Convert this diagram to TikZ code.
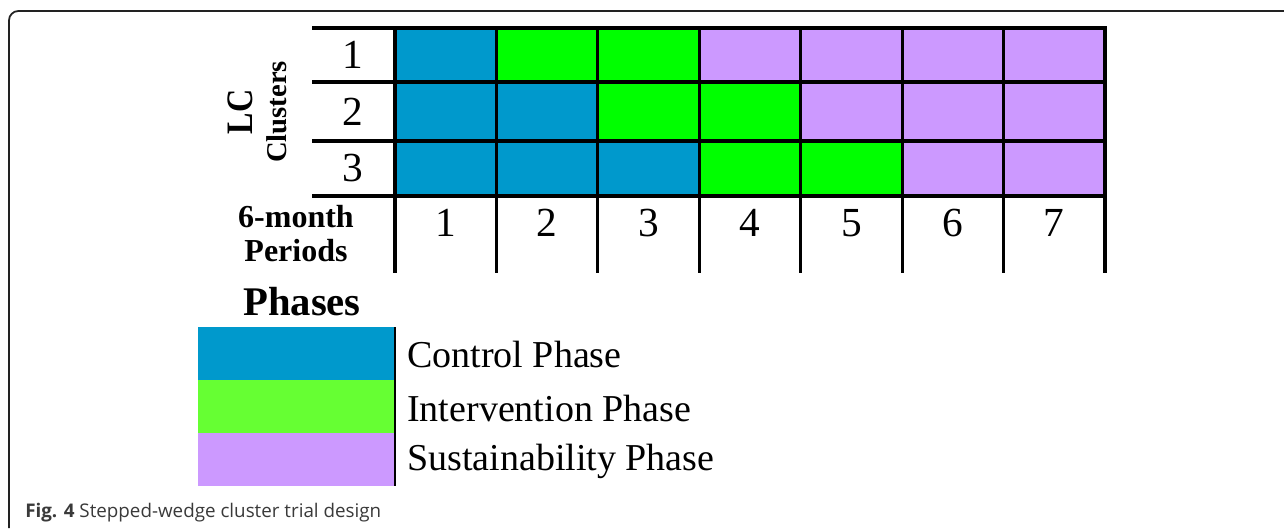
\documentclass[tikz,border=0pt]{standalone}
\usepackage{fontspec}
\setmainfont{Liberation Serif}
\newfontfamily\capfont{Open Sans}
\definecolor{ctrl}{HTML}{0099CC}
\definecolor{interv}{HTML}{00FF00}
\definecolor{sustain}{HTML}{CC99FF}
\definecolor{legint}{HTML}{66FF33}
\definecolor{framegray}{HTML}{222222}
\definecolor{capgray}{HTML}{3A3A3A}
\tikzset{
  gridline/.style={line width=2.3pt, black},
  rowlab/.style={font=\fontsize{31}{32}\selectfont, inner sep=0pt},
  collab/.style={font=\fontsize{31}{32}\selectfont, inner sep=0pt},
  boldlab/.style={font=\bfseries\fontsize{24}{26}\selectfont, inner sep=0pt},
  legtext/.style={font=\fontsize{28.5}{30}\selectfont, anchor=west, inner sep=0pt},
}
\begin{document}
\begin{tikzpicture}[x=0.75pt,y=-0.75pt]
\useasboundingbox (0,0) rectangle (1284,528);
\fill[white] (0,0) rectangle (1284,528);
% frame
\draw[line width=1.3pt, framegray, rounded corners=7pt] (9,528) -- (9,11) -- (1284,11);
% cells
\def\cw{101.43}
\foreach \r/\ya/\yb/\cols in {1/28/82/{ctrl,interv,interv,sustain,sustain,sustain,sustain},
                              2/82/141/{ctrl,ctrl,interv,interv,sustain,sustain,sustain},
                              3/141/196/{ctrl,ctrl,ctrl,interv,interv,sustain,sustain}}{
  \foreach \c [count=\i from 0] in \cols {
    \fill[\c] ({395+\i*\cw},\ya) rectangle ({395+(\i+1)*\cw},\yb);
  }
}
% grid lines
\foreach \y in {28,82,141,196}{
  \draw[gridline, line cap=rect] (314,\y) -- (1105,\y);
}
\foreach \i in {0,...,7}{
  \draw[gridline] ({395+\i*\cw},28) -- ({395+\i*\cw},273);
}
% row labels
\node[rowlab] (r1) at (353,55) {1};
\node[rowlab] (r2) at (353,112) {2};
\node[rowlab] (r3) at (353,168) {3};
% period labels
\foreach \i in {1,...,7}{
  \node[collab] (p\i) at ({395+(\i-0.5)*\cw},223) {\i};
}
\node[font=\bfseries\fontsize{28}{30}\selectfont, rotate=90, inner sep=0pt] (lc) at (240,112) {\scalebox{0.86}[1]{LC}};
\node[font=\bfseries\fontsize{21.5}{23}\selectfont, rotate=90, inner sep=0pt] (clusters) at (277,112) {Clusters};
\node[boldlab] (sixmonth) at (296,217) {6-month};
\node[boldlab] (periods) at (296,251) {Periods};
% legend
\node[font=\bfseries\fontsize{30.5}{32}\selectfont, inner sep=0pt] (phases) at (302,302) {Phases};
\fill[ctrl] (198,327) rectangle (395,380);
\fill[legint] (198,380) rectangle (395,433);
\fill[sustain] (198,433) rectangle (395,486);
\draw[line width=2.2pt, black] (395,327) -- (395,486);
\node[legtext] (lctrl) at (407,354) {Control Phase};
\node[legtext] (lint) at (407,408) {Intervention Phase};
\node[legtext] (lsus) at (407,461) {Sustainability Phase};
% caption
\node[anchor=base west, inner sep=0pt, text=capgray, font=\capfont\fontsize{14.1}{16}\selectfont] (cap) at (25,517) {\textbf{Fig. 4} Stepped-wedge cluster trial design};
\end{tikzpicture}
\end{document}
